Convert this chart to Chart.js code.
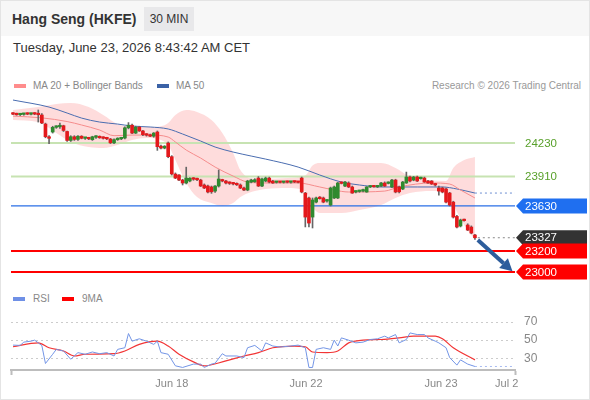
<!DOCTYPE html>
<html>
<head>
<meta charset="utf-8">
<title>Hang Seng (HKFE) 30 MIN</title>
<script src="https://cdn.jsdelivr.net/npm/chart.js@4.4.1/dist/chart.umd.min.js"></script>
<style>
  html, body { margin: 0; padding: 0; background: #fff; }
  body { width: 590px; height: 400px; position: relative; overflow: hidden; font-family: "Liberation Sans", Arial, sans-serif; color: #333; }
  #frame { position: absolute; left: 0; top: 0; width: 588px; height: 398px; border: 1px solid #e4e4e4; }
  #head { position: absolute; left: 1px; top: 1px; width: 588px; height: 35px; background: #f7f7f7; }
  .abs { position: absolute; white-space: nowrap; }
  #title { left: 12px; top: 10px; font-size: 14px; font-weight: bold; line-height: 18px; color: #333; }
  #period { left: 144px; top: 7px; width: 50px; height: 24px; line-height: 24px; text-align: center; font-size: 12px; background: #e8e8ea; color: #333; }
  #stamp { left: 13px; top: 40px; font-size: 13px; line-height: 16px; color: #333; }
  .legend { font-size: 10px; line-height: 12px; color: #888; }
  .sw { position: absolute; width: 12px; height: 4px; }
  canvas { position: absolute; left: 0; }
</style>
</head>
<body>
<div id="frame"></div>
<div id="head"></div>
<div id="title" class="abs">Hang Seng (HKFE)</div>
<div id="period" class="abs">30 MIN</div>
<div id="stamp" class="abs">Tuesday, June 23, 2026 8:43:42 AM CET</div>

<div class="sw" style="left:14px; top:84px; background:#ff8c8c;"></div>
<div class="abs legend" style="left:33px; top:80px;">MA 20 + Bollinger Bands</div>
<div class="sw" style="left:157px; top:84px; background:#3b62a6;"></div>
<div class="abs legend" style="left:176px; top:80px;">MA 50</div>
<div class="abs legend" style="right:9px; top:80px; color:#999;">Research © 2026 Trading Central</div>

<div class="sw" style="left:13px; top:297px; background:#6f90e6;"></div>
<div class="abs legend" style="left:33px; top:293px;">RSI</div>
<div class="sw" style="left:62px; top:297px; background:#ff0000;"></div>
<div class="abs legend" style="left:82px; top:293px;">9MA</div>

<canvas id="price" width="590" height="190" style="top:95px"></canvas>
<canvas id="rsi" width="590" height="105" style="top:295px"></canvas>

<script>
// 30 min candles, oldest first
const opens = [24510, 24505, 24500, 24503, 24508, 24505, 24510, 24506, 24497, 24411,
  24290, 24335, 24380, 24385, 24395, 24340, 24255, 24290, 24265, 24295,
  24275, 24278, 24262, 24285, 24290, 24280, 24275, 24268, 24232, 24262,
  24270, 24278, 24375, 24400, 24325, 24382, 24345, 24310, 24305, 24295,
  24335, 24200, 24182, 24230, 24100, 23934, 23925, 23877, 23849, 23868,
  23894, 23885, 23877, 23830, 23820, 23811, 23772, 23820, 23875, 23868,
  23849, 23845, 23840, 23830, 23801, 23782, 23858, 23860, 23896, 23820,
  23868, 23896, 23868, 23855, 23858, 23855, 23860, 23856, 23860, 23858,
  23896, 23753, 23706, 23524, 23667, 23706, 23706, 23677, 23639, 23706,
  23706, 23849, 23820, 23849, 23811, 23763, 23768, 23772, 23763, 23811,
  23818, 23812, 23820, 23849, 23845, 23811, 23877, 23811, 23792, 23849,
  23906, 23877, 23906, 23890, 23896, 23868, 23868, 23835, 23801, 23801,
  23792, 23753, 23667, 23530, 23439, 23496, 23448, 23429, 23353];
const highs = [24520, 24515, 24512, 24515, 24518, 24515, 24520, 24545, 24510, 24420,
  24300, 24390, 24395, 24420, 24400, 24345, 24300, 24300, 24300, 24300,
  24285, 24285, 24295, 24300, 24298, 24290, 24285, 24275, 24270, 24280,
  24285, 24385, 24425, 24410, 24390, 24390, 24350, 24320, 24315, 24330,
  24345, 24210, 24205, 24240, 24110, 23945, 23930, 23885, 24000, 23900,
  23900, 23895, 23885, 23840, 23830, 23820, 23825, 23973, 23885, 23875,
  23860, 23855, 23850, 23840, 23810, 23875, 23885, 23890, 23910, 23895,
  23905, 23905, 23875, 23865, 23866, 23865, 23868, 23866, 23868, 23866,
  23906, 23760, 23715, 23706, 23715, 23720, 23715, 23690, 23810, 23820,
  23855, 23860, 23865, 23860, 23820, 23775, 23780, 23790, 23815, 23825,
  23825, 23825, 23855, 23860, 23860, 23885, 23885, 23820, 23865, 23953,
  23915, 23912, 23915, 23905, 23905, 23875, 23872, 23845, 23820, 23810,
  23800, 23760, 23675, 23540, 23505, 23505, 23460, 23440, 23360];
const lows = [24500, 24495, 24492, 24495, 24500, 24498, 24500, 24430, 24415, 24280,
  24225, 24325, 24370, 24370, 24340, 24245, 24245, 24255, 24255, 24270,
  24265, 24262, 24255, 24275, 24275, 24268, 24262, 24225, 24225, 24255,
  24262, 24270, 24365, 24320, 24320, 24340, 24300, 24295, 24290, 24285,
  24160, 24175, 24175, 24090, 23925, 23890, 23870, 23830, 23840, 23860,
  23875, 23870, 23815, 23795, 23755, 23750, 23760, 23810, 23860, 23840,
  23835, 23830, 23825, 23795, 23775, 23775, 23850, 23855, 23815, 23815,
  23860, 23850, 23845, 23848, 23850, 23848, 23850, 23848, 23852, 23850,
  23755, 23430, 23430, 23420, 23660, 23695, 23660, 23665, 23630, 23700,
  23700, 23840, 23815, 23805, 23750, 23755, 23760, 23765, 23760, 23805,
  23808, 23805, 23815, 23815, 23840, 23805, 23755, 23755, 23785, 23845,
  23860, 23870, 23862, 23885, 23855, 23845, 23835, 23820, 23734, 23755,
  23660, 23630, 23515, 23420, 23430, 23485, 23395, 23365, 23310];
const closes = [24505, 24500, 24503, 24508, 24505, 24510, 24506, 24500, 24421, 24290,
  24275, 24380, 24385, 24395, 24350, 24255, 24290, 24265, 24295, 24275,
  24278, 24270, 24290, 24292, 24280, 24275, 24270, 24232, 24262, 24270,
  24278, 24375, 24400, 24325, 24382, 24345, 24310, 24305, 24295, 24325,
  24195, 24182, 24200, 24100, 23935, 23896, 23877, 23849, 23896, 23894,
  23885, 23880, 23820, 23801, 23763, 23765, 23820, 23887, 23868, 23849,
  23845, 23840, 23832, 23801, 23782, 23868, 23877, 23880, 23820, 23887,
  23896, 23858, 23849, 23858, 23855, 23860, 23856, 23860, 23858, 23855,
  23763, 23524, 23467, 23687, 23706, 23700, 23667, 23680, 23801, 23811,
  23849, 23845, 23858, 23811, 23753, 23768, 23772, 23782, 23811, 23818,
  23812, 23820, 23849, 23820, 23850, 23877, 23763, 23765, 23858, 23906,
  23868, 23906, 23868, 23896, 23858, 23849, 23839, 23830, 23772, 23763,
  23667, 23639, 23524, 23429, 23496, 23490, 23400, 23372, 23327];

// moving averages at candle positions
const ma20Idx = [0, 8, 15, 19, 24, 28, 33, 38, 43, 45, 48, 52, 56, 61, 65, 70, 79, 85, 89, 93, 103, 107, 116, 121, 124, 128];
const ma20Vals = [24487, 24470, 24435, 24402, 24354, 24300, 24306, 24306, 24287, 24240, 24163, 24087, 24001, 23915, 23858, 23849, 23849, 23811, 23782, 23763, 23772, 23811, 23849, 23839, 23782, 23706];
const ma50Idx = [0, 10, 15, 19, 24, 29, 33, 38, 43, 47, 52, 56, 61, 66, 70, 79, 85, 91, 96, 102, 112, 119, 123, 128];
const ma50Vals = [24640, 24573, 24516, 24468, 24430, 24411, 24392, 24383, 24364, 24316, 24249, 24192, 24144, 24106, 24077, 24001, 23925, 23858, 23830, 23811, 23811, 23811, 23792, 23753];

// Bollinger bands
const bbIdx = [0, 7, 12, 16, 21, 25, 29, 33, 37, 41, 43, 45, 48, 51, 55, 58, 61, 63, 66, 70, 76, 81, 83, 85, 91, 96, 102, 106, 110, 116, 120, 122, 125, 128];
const bbUpper = [24545, 24573, 24602, 24611, 24573, 24497, 24410, 24390, 24383, 24390, 24421, 24497, 24545, 24526, 24449, 24325, 24135, 23973, 23895, 23890, 23896, 23920, 24015, 24039, 24039, 24039, 24039, 23992, 23910, 23872, 23868, 23992, 24068, 24097];
const bbLower = [24449, 24430, 24325, 24240, 24192, 24182, 24211, 24259, 24278, 24259, 24211, 24068, 23849, 23715, 23658, 23630, 23658, 23715, 23763, 23792, 23801, 23770, 23620, 23563, 23563, 23591, 23639, 23706, 23753, 23772, 23763, 23639, 23448, 23305];

// key levels
const resistLevels = [24230, 23910];
const pivotLevel = 23630;
const lastPrice = 23327;
const supportLevels = [23200, 23000];

// RSI panel
const rsiIdx = [0, 2, 3, 5, 6, 7, 8, 9, 11, 12, 14, 16, 18, 20, 22, 24, 26, 28, 29, 31, 32, 33, 35, 37, 39, 40, 41, 43, 45, 47, 50, 52, 53, 55, 56, 58, 59, 62, 64, 65, 67, 69, 70, 72, 74, 77, 79, 81, 82, 83, 84, 86, 88, 89, 90, 91, 93, 95, 97, 99, 101, 103, 104, 106, 107, 109, 110, 112, 114, 115, 117, 118, 120, 121, 123, 124, 126, 128];
const rsiVals = [44.5, 44.2, 47.8, 48.9, 50, 47, 44, 24.2, 34.4, 39.8, 38, 28.9, 36.2, 34.4, 36.9, 35, 36.2, 32.5, 39.8, 41.6, 57.3, 48.9, 51.5, 48.9, 45.3, 48.9, 36.2, 34.4, 21.6, 19.8, 23.5, 23.5, 19.8, 23.5, 24.5, 35, 32.5, 32.5, 30.7, 41.6, 44.2, 38, 47, 43.5, 42.4, 43.5, 44.5, 41.6, 19.8, 19.8, 39.8, 41.6, 39.8, 50, 43.5, 52.5, 50, 47, 47.8, 50.7, 51.5, 54.4, 52.5, 56.2, 47, 50.7, 58, 56.2, 56.2, 52.5, 48.9, 47, 41.6, 30.7, 22.4, 28.2, 23.5, 20.9];
const sigIdx = [0, 7, 10, 14, 17, 20, 28, 31, 35, 40, 43, 46, 50, 53, 59, 64, 68, 72, 78, 81, 83, 87, 90, 93, 97, 102, 107, 111, 117, 119, 122, 128];
const sigVals = [42.7, 47, 41.6, 38, 32.5, 34.4, 35, 38, 45.3, 48.9, 43.5, 34.4, 26, 21.6, 27.1, 32.5, 36.2, 41.6, 43.5, 42.7, 36.9, 36.2, 38, 47, 50, 50.7, 52.5, 54.4, 54.4, 51.5, 41.6, 28.2];
const rsiTicks = [30, 50, 70];

// time axis (candle index), labels at session opens
const xMin = -0.55, xMax = 139.1;
const dayTicks = [xMin, 44, 81.2, 118.6, 136.8, xMax];
const dayLabels = ['', 'Jun 18', 'Jun 22', 'Jun 23', 'Jul 2', ''];

const UP = '#2f8a2f';
const DOWN = '#e3191c';
const BAND = 'rgba(250, 120, 120, 0.26)';
const FONT = '"Liberation Sans", Arial, sans-serif';
Chart.defaults.font.family = FONT;

function pts(xs, ys) {
    return xs.map((x, i) => ({ x: x, y: ys[i] }));
}

function flatLine(v, color, width, from) {
    return {
        data: [{ x: from, y: v }, { x: xMax, y: v }],
        borderColor: color,
        borderWidth: width,
        pointRadius: 0,
        order: 6
    };
}

function drawTag(ctx, left, cy, bg, text) {
    const h = 7.5;
    ctx.fillStyle = bg;
    ctx.beginPath();
    ctx.moveTo(left, cy);
    ctx.lineTo(left + 7, cy - h);
    ctx.lineTo(587, cy - h);
    ctx.lineTo(587, cy + h);
    ctx.lineTo(left + 7, cy + h);
    ctx.closePath();
    ctx.fill();
    ctx.fillStyle = '#fff';
    ctx.fillText(String(text), left + 9, cy + 0.5);
}

// price labels, tags and the target arrow on the right side
const levelTags = {
    id: 'levelTags',
    afterDatasetsDraw(chart) {
        const { ctx, chartArea, scales } = chart;
        const x = scales.x, y = scales.y;
        const left = chartArea.right + 1;
        ctx.save();
        ctx.font = '11.5px ' + FONT;
        ctx.textBaseline = 'middle';
        ctx.textAlign = 'left';
        resistLevels.forEach(v => {
            ctx.fillStyle = '#58a02a';
            ctx.fillText(String(v), left + 9, y.getPixelForValue(v) + 0.5);
        });
        drawTag(ctx, left, y.getPixelForValue(pivotLevel), '#1f6ff0', pivotLevel);
        drawTag(ctx, left, y.getPixelForValue(lastPrice), '#333333', lastPrice);
        supportLevels.forEach(v => drawTag(ctx, left, y.getPixelForValue(v), '#ff0000', v));

        const x0 = x.getPixelForValue(128.8), y0 = y.getPixelForValue(23305);
        const x1 = x.getPixelForValue(138.4), y1 = y.getPixelForValue(23008);
        const a = Math.atan2(y1 - y0, x1 - x0);
        const head = 12, half = 6.5;
        const bx = x1 - head * Math.cos(a), by = y1 - head * Math.sin(a);
        ctx.strokeStyle = '#2d5d9c';
        ctx.fillStyle = '#2d5d9c';
        ctx.lineWidth = 4;
        ctx.beginPath();
        ctx.moveTo(x0, y0);
        ctx.lineTo(bx, by);
        ctx.stroke();
        ctx.beginPath();
        ctx.moveTo(x1, y1);
        ctx.lineTo(bx + half * Math.sin(a), by - half * Math.cos(a));
        ctx.lineTo(bx - half * Math.sin(a), by + half * Math.cos(a));
        ctx.closePath();
        ctx.fill();
        ctx.restore();
    }
};

function createPriceChart() {
    const last = closes.length - 1;
    const bodies = closes.map((c, i) => ({ x: i, y: [opens[i], c] }));
    const wicks = closes.map((c, i) => ({ x: i, y: [lows[i], highs[i]] }));
    const bodyColors = closes.map((c, i) => c >= opens[i] ? UP : DOWN);

    const datasets = [
        {
            data: pts(bbIdx, bbUpper), borderColor: 'transparent', borderWidth: 1, pointRadius: 0,
            fill: '+1', backgroundColor: BAND, cubicInterpolationMode: 'monotone', order: 9
        },
        {
            data: pts(bbIdx, bbLower), borderColor: 'transparent', borderWidth: 1, pointRadius: 0,
            fill: false, cubicInterpolationMode: 'monotone', order: 9
        },
        { data: pts(ma20Idx, ma20Vals), borderColor: '#f58c8c', borderWidth: 1, pointRadius: 0, cubicInterpolationMode: 'monotone', order: 5 },
        { data: pts(ma50Idx, ma50Vals), borderColor: '#4a6db0', borderWidth: 1, pointRadius: 0, cubicInterpolationMode: 'monotone', order: 5 },
        Object.assign(flatLine(ma50Vals[ma50Vals.length - 1], '#6d8fd2', 1, last), { borderDash: [2, 3] }),
        flatLine(resistLevels[0], '#c7e3b2', 2, xMin),
        flatLine(resistLevels[1], '#c7e3b2', 2, xMin),
        flatLine(pivotLevel, '#2a6fe6', 1.2, xMin),
        flatLine(supportLevels[0], '#ff0000', 2, xMin),
        flatLine(supportLevels[1], '#ff0000', 2, xMin),
        Object.assign(flatLine(lastPrice, '#888888', 1, last + 0.8), { borderDash: [2, 3] }),
        { type: 'bar', data: wicks, backgroundColor: '#666', barThickness: 1, grouped: false, order: 1 },
        { type: 'bar', data: bodies, backgroundColor: bodyColors, barThickness: 3, grouped: false, minBarLength: 1.5, order: 0 }
    ];

    new Chart(document.getElementById('price'), {
        type: 'line',
        data: { datasets: datasets },
        options: {
            responsive: false,
            animation: false,
            events: [],
            layout: { padding: { left: 11, right: 75, top: 0, bottom: 3 } },
            scales: {
                x: { type: 'linear', min: xMin, max: xMax, offset: false, display: false },
                y: { min: 22905, max: 24688, display: false }
            },
            plugins: { legend: { display: false }, tooltip: { enabled: false } }
        },
        plugins: [levelTags]
    });
}

function createRsiChart() {
    const lastI = rsiIdx[rsiIdx.length - 1], lastV = rsiVals[rsiVals.length - 1];
    new Chart(document.getElementById('rsi'), {
        type: 'line',
        data: {
            datasets: [
                { data: pts(rsiIdx, rsiVals), borderColor: '#7395e6', borderWidth: 1, pointRadius: 0 },
                { data: [{ x: lastI, y: lastV }, { x: xMax, y: lastV }], borderColor: '#a6baf0', borderWidth: 1, borderDash: [2, 3], pointRadius: 0 },
                { data: pts(sigIdx, sigVals), borderColor: '#f23535', borderWidth: 1.2, pointRadius: 0, cubicInterpolationMode: 'monotone' }
            ]
        },
        options: {
            responsive: false,
            animation: false,
            events: [],
            layout: { padding: { left: 11, top: 5, right: 0, bottom: 0 } },
            scales: {
                x: {
                    type: 'linear', min: xMin, max: xMax, offset: false,
                    afterBuildTicks: s => { s.ticks = dayTicks.map(v => ({ value: v })); },
                    afterFit: s => { s.height = 30; },
                    ticks: {
                        autoSkip: false, maxRotation: 0, color: '#888', font: { size: 11 }, padding: 2,
                        callback: v => {
                            const k = dayTicks.findIndex(t => Math.abs(t - v) < 0.01);
                            return k < 0 ? '' : dayLabels[k];
                        }
                    },
                    grid: {
                        drawOnChartArea: false, drawTicks: true, tickLength: 5, tickWidth: 2,
                        tickColor: c => dayLabels[c.index] === '' ? '#bdbdbd' : 'rgba(0,0,0,0)'
                    },
                    border: { color: '#bdbdbd', width: 2 }
                },
                y: {
                    position: 'right', min: 17, max: 82,
                    afterBuildTicks: s => { s.ticks = rsiTicks.map(v => ({ value: v })); },
                    afterFit: s => { s.width = 75; },
                    ticks: { color: '#888', font: { size: 12 }, padding: 9 },
                    grid: { color: '#cccccc', drawTicks: false },
                    border: { display: false, dash: [2, 3] }
                }
            },
            plugins: { legend: { display: false }, tooltip: { enabled: false } }
        }
    });
}

createPriceChart();
createRsiChart();
</script>
</body>
</html>
